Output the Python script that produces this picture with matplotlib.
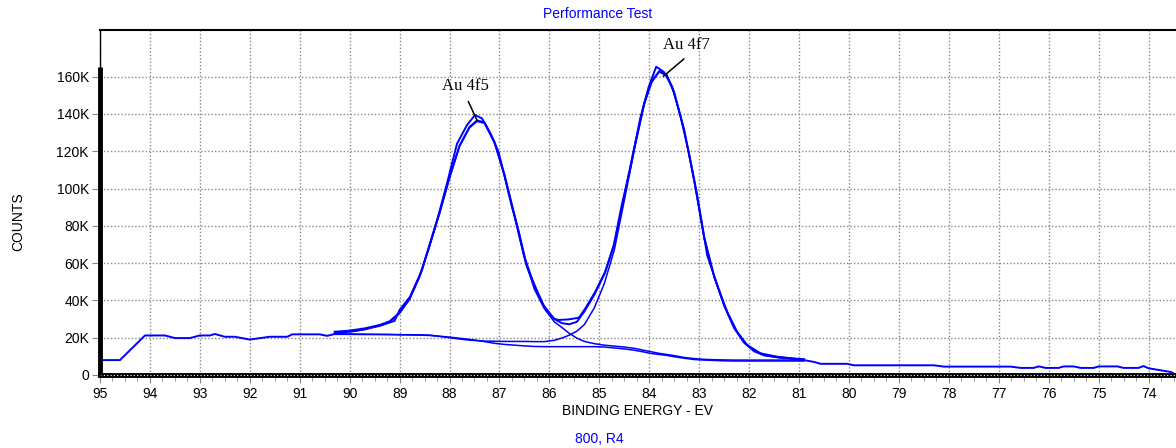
import numpy as np
import matplotlib
matplotlib.use("Agg")
import matplotlib.pyplot as plt
from matplotlib.ticker import MultipleLocator, FuncFormatter

# raw spectrum, binding energy (eV) and counts
raw_x = [95.0, 94.6, 94.1, 93.7, 93.5, 93.2, 93.0, 92.8, 92.7, 92.5, 92.3, 92.0,
         91.6, 91.25, 91.15, 90.6, 90.45, 90.3, 90.1, 89.9, 89.7, 89.5, 89.3, 89.1,
         89.0, 88.79, 88.55, 88.39, 88.22, 88.05, 87.85, 87.65, 87.49, 87.35, 87.18,
         87.02, 86.92, 86.75, 86.62, 86.45, 86.28, 86.12, 85.92, 85.82, 85.62, 85.41,
         85.28, 85.08, 84.88, 84.71, 84.55, 84.38, 84.18, 84.01, 83.86, 83.71, 83.54,
         83.38, 83.21, 83.04, 82.84, 82.64, 82.44, 82.24, 82.04, 81.77, 81.44, 81.1,
         80.9, 80.7, 80.57, 80.04, 79.9, 78.3, 78.1, 76.76, 76.56, 76.3, 76.2, 76.06,
         75.8, 75.7, 75.5, 75.36, 75.1, 75.0, 74.62, 74.5, 74.2, 74.1, 74.0, 73.55, 73.45]
raw_y = [8.0, 8.0, 21.2, 21.2, 19.8, 19.8, 21.2, 21.2, 22.0, 20.5, 20.5, 19.0,
         20.5, 20.5, 21.8, 21.8, 21.0, 22.0, 23.0, 23.5, 24.5, 26.0, 27.3, 29.0,
         34.9, 42.0, 56.3, 70.6, 85.8, 102.8, 124.0, 134.0, 139.4, 137.6, 129.6,
         119.7, 109.0, 90.2, 77.7, 58.0, 47.3, 37.5, 30.4, 29.5, 29.8, 30.7,
         35.7, 44.7, 55.4, 69.7, 91.2, 110.8, 137.6, 154.6, 165.3, 162.6, 154.6,
         139.4, 119.7, 96.5, 64.3, 48.3, 33.9, 23.2, 16.1, 11.6, 9.8, 8.8,
         8.0, 7.0, 6.0, 6.0, 5.2, 5.2, 4.5, 4.5, 3.8, 3.8, 4.6, 3.8,
         3.8, 4.6, 4.6, 3.8, 3.8, 4.6, 4.6, 3.8, 3.8, 4.8, 3.6, 1.6, 0.0]

# fit region: envelope, two components and background (K counts)
fit_x = [90.3, 90.0, 89.7, 89.4, 89.2, 89.0, 88.8, 88.6, 88.4, 88.2, 88.0, 87.8,
         87.6, 87.45, 87.3, 87.1, 86.9, 86.7, 86.5, 86.3, 86.1, 85.9, 85.75, 85.6,
         85.45, 85.3, 85.1, 84.9, 84.7, 84.5, 84.3, 84.1, 83.95, 83.8, 83.65, 83.5,
         83.3, 83.1, 82.9, 82.7, 82.5, 82.3, 82.1, 81.9, 81.7, 81.4, 81.1, 80.9]
envelope = [23.2, 23.8, 25.0, 26.8, 28.8, 33.5, 41.0, 53.0, 69.5, 87.0, 106.0, 123.0,
            133.0, 136.5, 135.5, 125.0, 107.5, 86.0, 63.5, 47.5, 36.5, 30.0, 27.8, 27.2,
            28.5, 34.0, 43.0, 54.0, 70.0, 96.0, 122.0, 146.0, 157.5, 163.0, 161.0, 151.5,
            131.5, 104.5, 74.0, 53.0, 37.5, 25.5, 17.5, 13.0, 10.8, 9.5, 8.8, 8.5]
comp_4f5 = [22.8, 23.2, 24.4, 26.2, 28.2, 33.0, 40.5, 52.5, 69.0, 86.5, 105.5, 122.5,
            132.5, 136.0, 135.0, 124.5, 107.0, 85.0, 62.5, 46.0, 35.5, 28.5, 25.5, 22.3,
            19.8, 18.0, 16.8, 16.0, 15.5, 15.0, 14.3, 13.2, 12.4, 11.6, 11.0, 10.4,
            9.4, 8.8, 8.4, 8.2, 8.1, 8.0, 8.0, 8.0, 8.0, 8.0, 8.0, 8.0]
comp_4f7 = [22.2, 22.0, 21.9, 21.8, 21.7, 21.6, 21.5, 21.4, 21.2, 20.7, 20.0, 19.3,
            18.7, 18.4, 18.2, 18.1, 18.0, 18.0, 18.0, 17.9, 17.9, 18.6, 19.8, 21.4,
            23.5, 27.0, 36.0, 49.0, 67.0, 93.5, 120.5, 145.0, 157.0, 162.5, 160.5, 151.0,
            131.0, 104.0, 73.5, 52.5, 37.0, 25.0, 17.2, 12.6, 10.4, 9.2, 8.5, 8.2]
background = [21.8, 21.8, 21.7, 21.7, 21.7, 21.6, 21.6, 21.5, 21.4, 20.8, 20.3, 19.7,
              19.1, 18.6, 17.9, 17.0, 16.4, 16.0, 15.6, 15.3, 15.2, 15.2, 15.2, 15.2,
              15.2, 15.2, 15.2, 15.0, 14.5, 14.0, 13.3, 12.3, 11.5, 11.0, 10.5, 9.8,
              9.0, 8.3, 8.0, 7.8, 7.6, 7.5, 7.5, 7.5, 7.5, 7.5, 7.5, 7.5]

peak_labels = ["Au 4f5", "Au 4f7"]
label_pos = [(87.685, 155000), (83.26, 177000)]
arrow_tail = [(87.645, 148000), (83.26, 170500)]
arrow_head = [(87.425, 135100), (83.76, 159200)]

blue = "#0000ff"
plt.rcParams['font.family'] = ['Liberation Sans', 'DejaVu Sans']

fig = plt.figure(figsize=(11.76, 4.48), dpi=100)
ax = fig.add_axes([100/1176., 1-375/448., 1-100/1176., (375-30)/448.])

k = 1000.
ax.plot(raw_x, np.array(raw_y)*k, color=blue, lw=1.4)
ax.plot(fit_x, np.array(envelope)*k, color=blue, lw=1.4)
ax.plot(fit_x, np.array(comp_4f5)*k, color=blue, lw=1.1)
ax.plot(fit_x, np.array(comp_4f7)*k, color=blue, lw=1.1)
ax.plot(fit_x, np.array(background)*k, color=blue, lw=1.1)

for lab, p, t, h in zip(peak_labels, label_pos, arrow_tail, arrow_head):
    ax.text(p[0], p[1], lab, ha='center', va='center', fontsize=12,
            family=['Liberation Serif', 'DejaVu Serif'])
    ax.annotate('', xy=h, xytext=t,
                arrowprops=dict(arrowstyle='-', color='black', lw=1.1))

ax.set_xlim(95, 73.45)
ax.set_ylim(0, 185000)
ax.xaxis.set_major_locator(MultipleLocator(1))
ax.xaxis.set_minor_locator(MultipleLocator(0.25))
ax.set_yticks(np.arange(0, 160001, 20000))
ax.yaxis.set_major_formatter(FuncFormatter(lambda v, p: "0" if v == 0 else "%dK" % (v/1000)))
ax.grid(True, which='major', color='#888888', linestyle=(0, (1, 1.5)), lw=1)
ax.set_axisbelow(True)

ax.tick_params(axis='x', which='major', direction='out', length=6, color='#888888',
               labelsize=10, pad=3)
ax.tick_params(axis='x', which='minor', direction='out', length=4, color='#888888')
ax.tick_params(axis='y', which='major', direction='out', length=6, color='#888888',
               labelsize=10, pad=2)

ax.spines['right'].set_visible(False)
ax.spines['top'].set_linewidth(1.5)
ax.spines['left'].set_linewidth(1.0)
ax.spines['bottom'].set_linewidth(3.5)
ax.axhline(0, color='white', lw=0.8, linestyle=(0, (1, 2)), clip_on=False, zorder=5)
# thick part of the left axis, up to the data maximum
ax.vlines(95, 0, max(raw_y)*k, color='black', lw=3.5, clip_on=False, zorder=5)

ax.set_xlabel("BINDING ENERGY - EV", fontsize=10, labelpad=2)
fig.text(18/1176., 1-222/448., "COUNTS", rotation=90, ha='center', va='center', fontsize=10)
fig.text(598/1176., 1-14/448., "Performance Test", color=blue, ha='center', va='center', fontsize=10)
fig.text(599/1176., 1-439/448., "800, R4", color=blue, ha='center', va='center', fontsize=10)

fig.savefig("out.png", dpi=100)
